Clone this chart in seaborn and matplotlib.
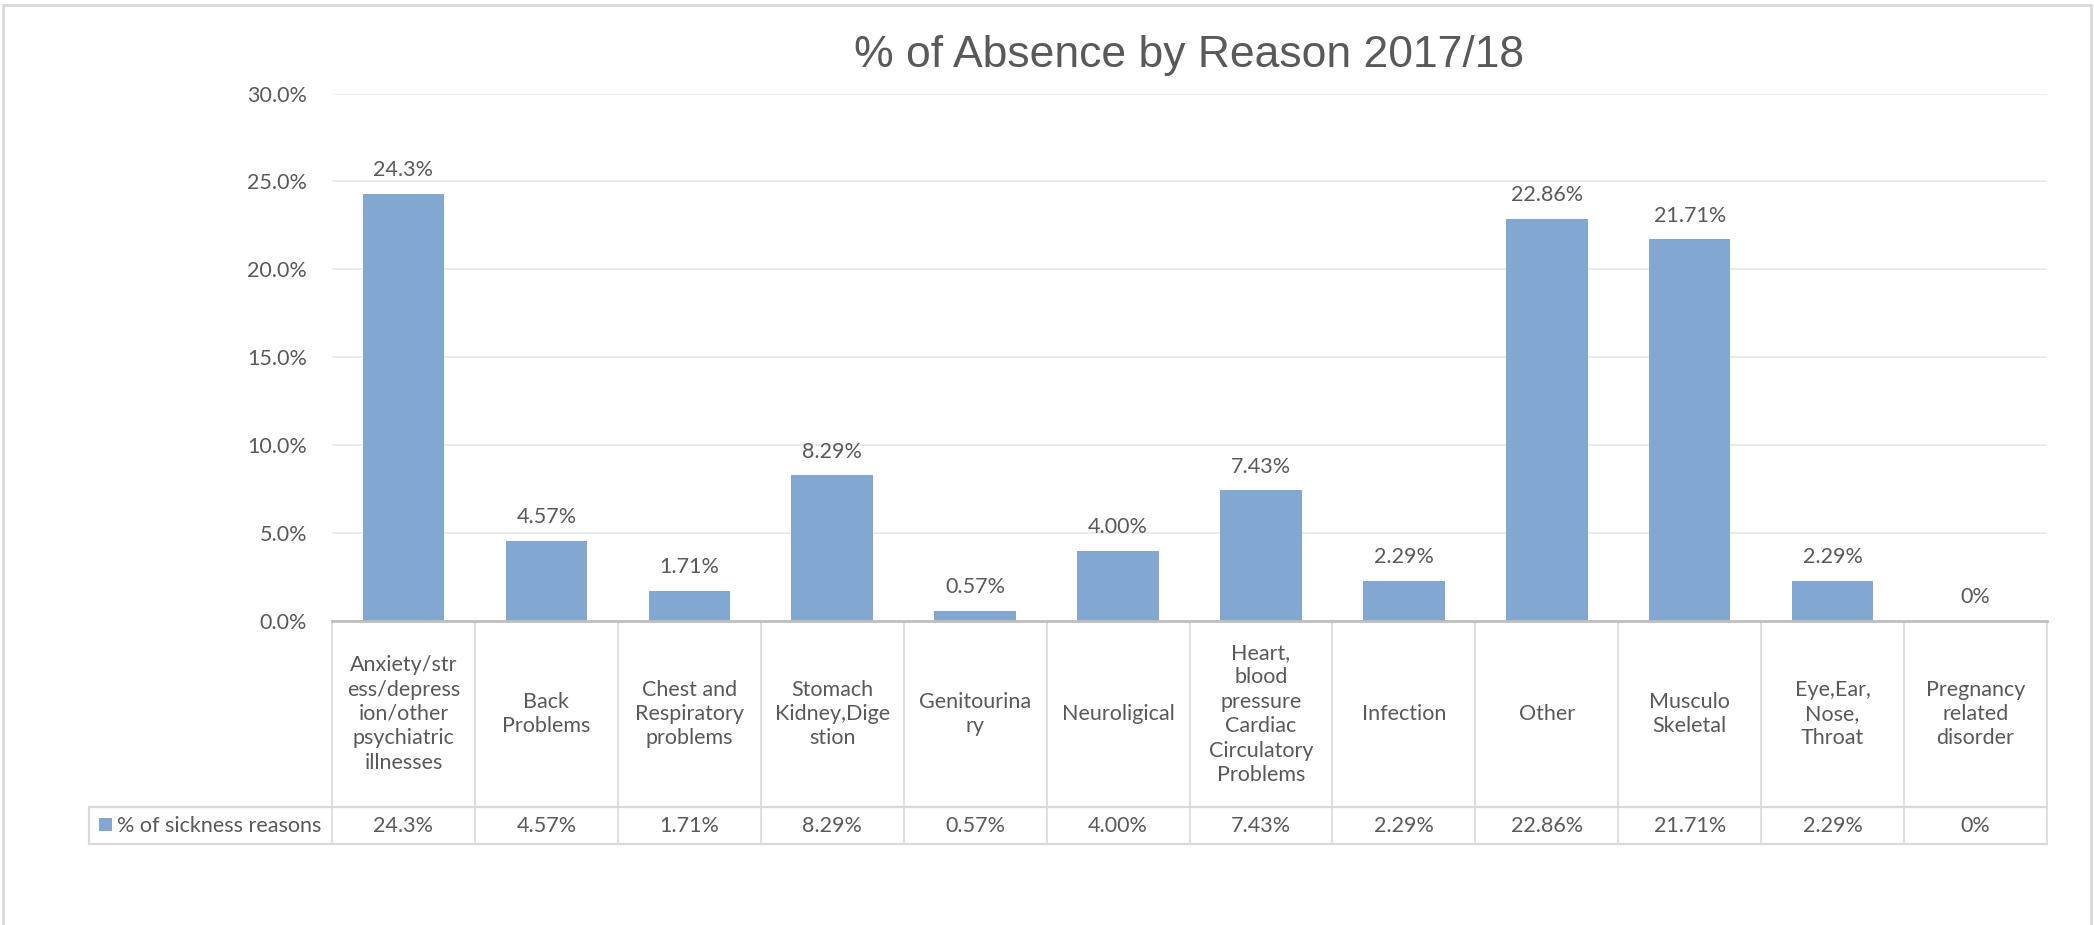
import matplotlib
matplotlib.use("Agg")
import matplotlib.pyplot as plt
import matplotlib.transforms as mtransforms
from matplotlib.patches import Rectangle
import seaborn as sns

# ---- data ----
categories = [
    "Anxiety/stress/depression/other psychiatric illnesses",
    "Back Problems",
    "Chest and Respiratory problems",
    "Stomach Kidney,Digestion",
    "Genitourinary",
    "Neuroligical",
    "Heart, blood pressure Cardiac Circulatory Problems",
    "Infection",
    "Other",
    "Musculo Skeletal",
    "Eye,Ear, Nose, Throat",
    "Pregnancy related disorder",
]
category_cells = [
    "Anxiety/str\ness/depress\nion/other\npsychiatric\nillnesses",
    "Back\nProblems",
    "Chest and\nRespiratory\nproblems",
    "Stomach\nKidney,Dige\nstion",
    "Genitourina\nry",
    "Neuroligical",
    "Heart,\nblood\npressure\nCardiac\nCirculatory\nProblems",
    "Infection",
    "Other",
    "Musculo\nSkeletal",
    "Eye,Ear,\nNose,\nThroat",
    "Pregnancy\nrelated\ndisorder",
]
values = [0.243, 0.0457, 0.0171, 0.0829, 0.0057, 0.0400, 0.0743, 0.0229, 0.2286, 0.2171, 0.0229, 0.0]
value_labels = ["24.3%", "4.57%", "1.71%", "8.29%", "0.57%", "4.00%", "7.43%", "2.29%",
                "22.86%", "21.71%", "2.29%", "0%"]
y_ticks = [0.0, 0.05, 0.10, 0.15, 0.20, 0.25, 0.30]
y_tick_labels = ["0.0%", "5.0%", "10.0%", "15.0%", "20.0%", "25.0%", "30.0%"]
series_name = "% of sickness reasons"
title = "% of Absence by Reason 2017/18"

# ---- style ----
sns.set_theme(style="white")
FONT = ["Lato", "DejaVu Sans"]
plt.rcParams["font.family"] = FONT
TXT = "#595959"
BAR = "#82A7D0"
GRID = "#E9E9E9"
TBL = "#D9D9D9"
AXLINE = "#BFBFBF"
FS = 15.5

W, H = 2094, 925
fig = plt.figure(figsize=(W / 100, H / 100), dpi=100)

def fx(px):
    return px / W

def fy(py):
    return 1 - py / H

left_px, right_px, top_px, zero_px = 332, 2047, 93.5, 621
row1_px, row2_px = 807, 844
legend_left_px = 89

ax = fig.add_axes([fx(left_px), fy(zero_px), fx(right_px) - fx(left_px), fy(top_px) - fy(zero_px)])

sns.barplot(x=categories, y=values, color=BAR, saturation=1, width=0.57, ax=ax,
            edgecolor="none", linewidth=0)

ax.set_xlim(-0.5, len(categories) - 0.5)
ax.set_ylim(0, 0.30)
ax.set_yticks(y_ticks)
ax.set_yticklabels(y_tick_labels, color=TXT, fontsize=FS, family=FONT)
ax.set_xticks([])
ax.set_xlabel("")
ax.set_ylabel("")
ax.tick_params(axis="y", length=0, pad=18)
ax.grid(axis="y", color=GRID, linewidth=1.2)
ax.set_axisbelow(True)
for s in ["left", "right", "top"]:
    ax.spines[s].set_visible(False)
ax.spines["bottom"].set_color(AXLINE)
ax.spines["bottom"].set_linewidth(2)

# data labels
for i, (v, lab) in enumerate(zip(values, value_labels)):
    ax.annotate(lab, xy=(i, v), xytext=(0, 17), textcoords="offset points",
                ha="center", va="center", color=TXT, fontsize=FS, family=FONT)

ax.set_title(title, fontsize=32, color=TXT, family=["Liberation Sans", "DejaVu Sans"],
             pad=0, y=1 + (top_px - 56) / (zero_px - top_px), va="center")

# ---- data table ----
bt = mtransforms.blended_transform_factory(ax.transData, fig.transFigure)
n = len(categories)
for k in range(n + 1):
    ax.plot([k - 0.5, k - 0.5], [fy(zero_px), fy(row2_px)], transform=bt,
            color=TBL, linewidth=1.2, clip_on=False)
for ypx in (row1_px, row2_px):
    fig.add_artist(plt.Line2D([fx(legend_left_px), fx(right_px)], [fy(ypx), fy(ypx)],
                              transform=fig.transFigure, color=TBL, linewidth=1.6))
fig.add_artist(plt.Line2D([fx(legend_left_px), fx(legend_left_px)], [fy(row1_px), fy(row2_px)],
                          transform=fig.transFigure, color=TBL, linewidth=1.6))

ymid1 = fy((zero_px + row1_px) / 2)
ymid2 = fy((row1_px + row2_px) / 2)
for i in range(n):
    ax.text(i, ymid1, category_cells[i], transform=bt, ha="center", va="center",
            color=TXT, fontsize=FS, family=FONT, linespacing=1.28, clip_on=False)
    ax.text(i, ymid2, value_labels[i], transform=bt, ha="center", va="center",
            color=TXT, fontsize=FS, family=FONT, clip_on=False)

# legend key in table
fig.add_artist(Rectangle((fx(99), fy(831)), fx(13), fy(818) - fy(831),
                         transform=fig.transFigure, facecolor=BAR, edgecolor="none"))
fig.text(fx(117), ymid2, series_name, ha="left", va="center", color=TXT,
         fontsize=FS, family=FONT)

# chart border
fig.add_artist(Rectangle((fx(3), fy(960)), fx(2091) - fx(3), fy(5) - fy(960),
                         transform=fig.transFigure, facecolor="none",
                         edgecolor="#D9D9D9", linewidth=2, clip_on=False))

fig.savefig("out.png", dpi=100, facecolor="white")
